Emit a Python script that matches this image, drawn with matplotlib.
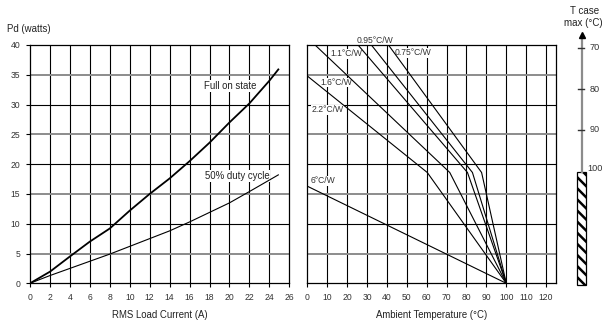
import matplotlib
matplotlib.use('Agg')
import matplotlib.pyplot as plt
import numpy as np
from matplotlib.patches import Rectangle

plt.rcParams['font.family'] = ['Liberation Sans', 'DejaVu Sans']
plt.rcParams['hatch.linewidth'] = 1.8

# courbes de puissance dissipee (graphe de gauche)
courant = [0, 2, 4, 6, 8, 10, 12, 14, 16, 18, 20, 22, 24, 24.9]
pd_full = [0, 1.95, 4.5, 7.0, 9.2, 12.2, 15.0, 17.6, 20.5, 23.6, 27.0, 30.2, 34.0, 35.9]
courant_50 = [0, 2, 4, 8, 10, 12, 14, 16, 20, 22, 24.9]
pd_50 = [0, 1.3, 2.5, 4.9, 6.2, 7.5, 8.8, 10.3, 13.5, 15.4, 18.2]

# droites de derating (graphe de droite) : Ta, Pd
rth_labels = ['0.75°C/W', '0.95°C/W', '1.1°C/W', '1.6°C/W', '2.2°C/W', '6°C/W']
ta_lines = [[40.8, 87.6, 100], [32.2, 83.0, 100], [25.5, 80.5, 100],
            [3.9, 71.6, 100], [0, 60.3, 100], [0, 100]]
pd_lines = [[40, 18.6, 0], [40, 18.6, 0], [40, 18.6, 0],
            [40, 18.6, 0], [34.8, 18.6, 0], [16.3, 0]]
# position des etiquettes (Ta, Pd)
label_pos = [(44.1, 38.7), (24.9, 40.8), (11.4, 38.5), (6.4, 33.7), (2.2, 29.1), (1.7, 17.2)]

# echelle T case max
tcase = ['70', '80', '90', '100']
tcase_pd = [39.5, 32.6, 25.8, 18.7]

W, H = 605, 323
fig = plt.figure(figsize=(W / 100, H / 100), dpi=100)

gris = '#8c8c8c'
fs_tick = 6.2
fs_lab = 6.9


def grille(ax, xs):
    for x in xs:
        ax.axvline(x, color='black', lw=0.8, zorder=1)
    for y in [5, 10, 15, 20, 25, 30, 35]:
        if y % 10 == 0:
            ax.axhline(y, color='black', lw=0.8, zorder=1)
        else:
            ax.axhline(y, color=gris, lw=1.4, zorder=1)
    for s in ax.spines.values():
        s.set_linewidth(0.9)


ax1 = fig.add_axes([30 / W, 1 - 283.3 / H, 259.3 / W, 238.3 / H])
ax1.set_xlim(0, 26)
ax1.set_ylim(0, 40)
grille(ax1, range(2, 26, 2))
ax1.plot(courant, pd_full, color='black', lw=1.3, zorder=3)
ax1.plot(courant_50, pd_50, color='black', lw=0.8, zorder=3)
ax1.text(17.4, 33.1, 'Full on state', fontsize=fs_lab, va='center', color='#222222',
         bbox=dict(facecolor='white', edgecolor='none', pad=0.5), zorder=2)
ax1.text(17.5, 18.0, '50% duty cycle', fontsize=fs_lab, va='center', color='#222222',
         bbox=dict(facecolor='white', edgecolor='none', pad=0.5), zorder=2)
ax1.set_xticks(range(0, 27, 2))
ax1.set_yticks(range(0, 41, 5))
ax1.tick_params(labelsize=fs_tick, length=3, width=0.8, pad=4, colors='black', labelcolor='#333333')
ax1.set_xlabel('RMS Load Current (A)', fontsize=fs_lab, labelpad=6, color='#222222')
fig.text(7 / W, 1 - 29.3 / H, 'Pd (watts)', fontsize=fs_lab, va='center', color='#222222')

ax2 = fig.add_axes([307.3 / W, 1 - 283.3 / H, 248.7 / W, 238.3 / H])
ax2.set_xlim(0, 125)
ax2.set_ylim(0, 40)
grille(ax2, range(10, 125, 10))
for i in range(len(rth_labels)):
    ax2.plot(ta_lines[i], pd_lines[i], color='black', lw=0.8, zorder=3)
    x, y = label_pos[i]
    ax2.text(x, y, rth_labels[i], fontsize=6.2, va='center', color='#333333',
             bbox=dict(facecolor='white', edgecolor='none', pad=0.3), zorder=2)
ax2.set_xticks(range(0, 121, 10))
ax2.set_yticks([])
ax2.tick_params(labelsize=fs_tick, length=3, width=0.8, pad=4, labelcolor='#333333')
ax2.set_xlabel('Ambient Temperature (°C)', fontsize=fs_lab, labelpad=6, color='#222222')

# echelle T case max a droite
ax3 = fig.add_axes([560 / W, 1 - 283.3 / H, 45 / W, 238.3 / H])
ax3.set_xlim(0, 45)
ax3.set_ylim(0, 40)
ax3.axis('off')
ax3.plot([21.7, 21.7], [tcase_pd[-1], 41.5], color=gris, lw=1.6, clip_on=False)
ax3.plot([21.7], [41.7], marker='^', color='black', markersize=5, clip_on=False)
for t, p in zip(tcase[:-1], tcase_pd[:-1]):
    ax3.plot([18.3, 24.3], [p, p], color='#333333', lw=1.0, clip_on=False)
    ax3.text(30, p, t, fontsize=6.6, va='center', color='#333333')
ax3.text(27, tcase_pd[-1] + 0.6, tcase[-1], fontsize=6.6, va='center', color='#333333')
ax3.add_patch(Rectangle((17.3, -0.3), 8.4, tcase_pd[-1] + 0.3, facecolor='white',
                        edgecolor='black', hatch='\\\\\\', lw=0.9, clip_on=False))
fig.text(585 / W, 1 - 11 / H, 'T case', fontsize=7, ha='center', va='center', color='#222222')
fig.text(583 / W, 1 - 22.5 / H, 'max (°C)', fontsize=7, ha='center', va='center', color='#222222')

fig.savefig('out.png', dpi=100)
